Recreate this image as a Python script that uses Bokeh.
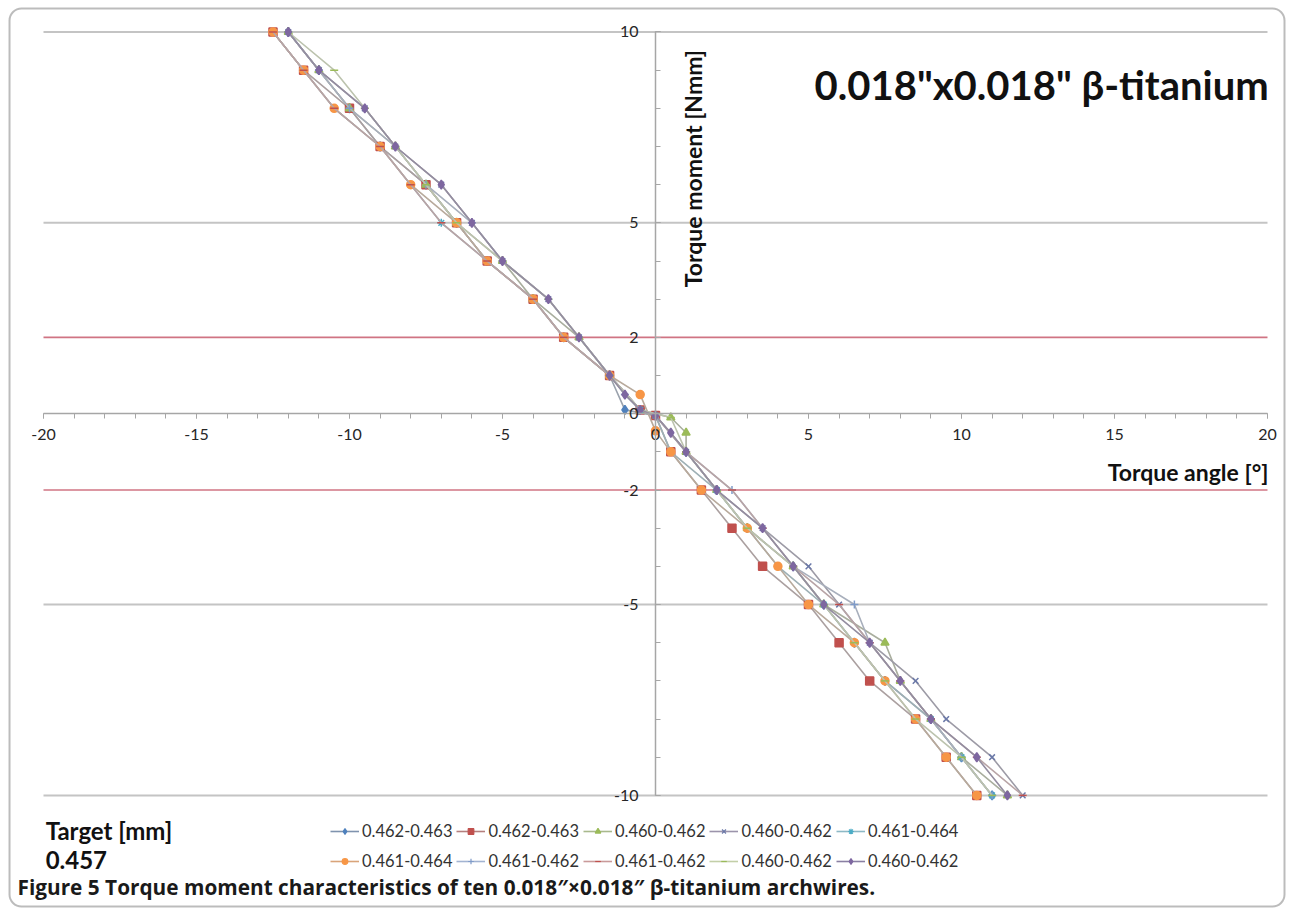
from bokeh.plotting import figure
from bokeh.models import Range1d, LinearAxis, FixedTicker, Legend, LegendItem, BoxAnnotation
from bokeh.core.properties import value
from bokeh.embed import file_html
from bokeh.resources import INLINE

# ---------------- data ----------------
series_labels = ["0.462-0.463", "0.462-0.463", "0.460-0.462", "0.460-0.462", "0.461-0.464",
                 "0.461-0.464", "0.461-0.462", "0.461-0.462", "0.460-0.462", "0.460-0.462"]

torque_up = [10, 9, 8, 7, 6, 5, 4, 3, 2, 1]            # Nmm
torque_down = [-1, -2, -3, -4, -5, -6, -7, -8, -9, -10]  # Nmm

s1_up = [-12.0, -11.0, -10.0, -9.0, -7.5, -6.5, -5.5, -4.0, -3.0, -1.5]
s1_mid_x = [-1.0, 0.0]
s1_mid_y = [0.1, -0.05]
s1_dn = [1.0, 2.0, 3.0, 4.5, 5.5, 6.5, 7.5, 9.0, 10.0, 11.0]

s2_up = [-12.5, -11.5, -10.0, -9.0, -7.5, -6.5, -5.5, -4.0, -3.0, -1.5]
s2_mid_x = [-0.5, 0.0]
s2_mid_y = [0.1, -0.05]
s2_dn = [0.5, 1.5, 2.5, 3.5, 5.0, 6.0, 7.0, 8.5, 9.5, 10.5]

s3_up = [-12.0, -11.0, -10.0, -8.5, -7.5, -6.5, -5.0, -4.0, -2.5, -1.5]
s3_mid_x = [-0.5, 0.5, 1.0]
s3_mid_y = [0.1, -0.1, -0.5]
s3_dn = [1.0, 2.0, 3.0, 4.5, 5.5, 7.5, 8.0, 9.0, 10.0, 11.5]

s4_up = [-12.0, -11.0, -9.5, -8.5, -7.0, -6.0, -5.0, -3.5, -2.5, -1.5]
s4_mid_x = [-0.5, 0.0]
s4_mid_y = [0.1, -0.05]
s4_dn = [1.0, 2.0, 3.5, 5.0, 6.0, 7.0, 8.5, 9.5, 11.0, 12.0]

s5_up = [-12.5, -11.5, -10.5, -9.0, -8.0, -7.0, -5.5, -4.0, -3.0, -1.5]
s5_mid_x = [-0.5, 0.0]
s5_mid_y = [0.1, -0.05]
s5_dn = [0.5, 2.0, 3.0, 4.0, 5.5, 6.5, 7.5, 9.0, 10.0, 11.0]

s6_up = [-12.5, -11.5, -10.5, -9.0, -8.0, -6.5, -5.5, -4.0, -3.0, -1.5]
s6_mid_x = [-0.5, 0.0]
s6_mid_y = [0.5, -0.45]
s6_dn = [0.5, 1.5, 3.0, 4.0, 5.0, 6.5, 7.5, 8.5, 9.5, 10.5]

s7_up = [-12.0, -11.0, -10.0, -8.5, -7.5, -6.0, -5.0, -3.5, -2.5, -1.5]
s7_mid_x = [-1.0, -0.5, 0.0]
s7_mid_y = [0.5, 0.1, -0.05]
s7_dn = [1.0, 2.5, 3.5, 4.5, 6.5, 7.0, 8.0, 9.0, 10.0, 11.0]

s8_up = [-12.5, -11.5, -10.5, -9.0, -8.0, -7.0, -5.5, -4.0, -3.0, -1.5]
s8_mid_x = [-0.5, 0.0]
s8_mid_y = [0.1, -0.05]
s8_dn = [1.0, 2.5, 3.5, 4.5, 6.0, 7.0, 8.0, 9.0, 10.5, 12.0]

s9_up = [-12.0, -10.5, -9.5, -8.5, -7.5, -6.5, -5.0, -3.5, -2.5, -1.5]
s9_mid_x = [-0.5, 0.5]
s9_mid_y = [0.1, -0.1]
s9_dn = [1.0, 2.0, 3.0, 4.5, 5.5, 6.5, 7.5, 8.5, 10.0, 11.0]

s10_up = [-12.0, -11.0, -9.5, -8.5, -7.0, -6.0, -5.0, -3.5, -2.5, -1.5]
s10_mid_x = [-1.0, -0.5, 0.0, 0.5]
s10_mid_y = [0.5, 0.1, -0.05, -0.5]
s10_dn = [1.0, 2.0, 3.5, 4.5, 5.5, 7.0, 8.0, 9.0, 10.5, 11.5]

x_ticks = [-20, -15, -10, -5, 0, 5, 10, 15, 20]
y_ticks = [-10, -5, -2, 0, 2, 5, 10]
grid_y = [10, 5, -5, -10]
limit_y = [2, -2]

# ---------------- styling ----------------
marker_colors = ["#4F81BD", "#C0504D", "#9BBB59", "#6A78A8", "#4BACC6",
                 "#F79646", "#7F9BC9", "#C0504D", "#9BBB59", "#7E67A0"]
line_colors = ["#9AA2AD", "#ABA0A0", "#A9AE9E", "#9D9BA6", "#9EB0B5",
               "#B8AA9C", "#A8AFBC", "#B8A4A6", "#BCC3AE", "#948DA0"]
legend_line_colors = ["#7F93AE", "#B57F7E", "#A9B98D", "#9C94AB", "#8DB9C6",
                      "#D9A47A", "#A3B4D2", "#C99A9A", "#C3CFA8", "#8A80A3"]
markers = ["diamond", "square", "triangle", "x", "asterisk",
           "circle", "cross", "dash", "dash", "diamond"]
sizes = [9, 8, 8, 8, 8, 8, 8, 8, 8, 9]

FONT = value("Lato")

p = figure(width=1290, height=912,
           x_range=Range1d(-21.405, 20.752), y_range=Range1d(-13.068, 10.825),
           output_backend="svg", toolbar_location=None,
           x_axis_type=None, y_axis_type=None, min_border=0,
           outline_line_color=None, background_fill_color="white",
           border_fill_color="white")

# grid lines
p.segment(x0=[-20] * len(grid_y), x1=[20] * len(grid_y), y0=grid_y, y1=grid_y,
          line_color="#C4C4C4", line_width=2)
p.segment(x0=[-20] * len(limit_y), x1=[20] * len(limit_y), y0=limit_y, y1=limit_y,
          line_color="#D07483", line_width=1.6)

# axes crossing at origin
xax = LinearAxis(fixed_location=0, bounds=(-20, 20),
                 ticker=FixedTicker(ticks=x_ticks, minor_ticks=list(range(-20, 21))))
yax = LinearAxis(fixed_location=0, bounds=(-10, 10),
                 ticker=FixedTicker(ticks=y_ticks, minor_ticks=list(range(-10, 11))))
xax.major_label_overrides = {t: str(t) for t in x_ticks}
yax.major_label_overrides = {t: str(t) for t in y_ticks}
for ax in (xax, yax):
    ax.axis_line_color = "#A6A6A6"
    ax.axis_line_width = 1.5
    ax.major_tick_line_color = "#A6A6A6"
    ax.minor_tick_line_color = "#A6A6A6"
    ax.major_label_text_font = "Lato"
    ax.major_label_text_font_size = "16px"
    ax.major_label_text_color = "#262626"
xax.major_tick_in = 0
xax.major_tick_out = 5
xax.minor_tick_in = 0
xax.minor_tick_out = 5
xax.major_label_standoff = 10
yax.major_tick_in = 5
yax.major_tick_out = 0
yax.minor_tick_in = 5
yax.minor_tick_out = 0
yax.major_label_standoff = 17
p.add_layout(xax, "below")
p.add_layout(yax, "left")

ups = [s1_up, s2_up, s3_up, s4_up, s5_up, s6_up, s7_up, s8_up, s9_up, s10_up]
mids_x = [s1_mid_x, s2_mid_x, s3_mid_x, s4_mid_x, s5_mid_x, s6_mid_x, s7_mid_x, s8_mid_x, s9_mid_x, s10_mid_x]
mids_y = [s1_mid_y, s2_mid_y, s3_mid_y, s4_mid_y, s5_mid_y, s6_mid_y, s7_mid_y, s8_mid_y, s9_mid_y, s10_mid_y]
dns = [s1_dn, s2_dn, s3_dn, s4_dn, s5_dn, s6_dn, s7_dn, s8_dn, s9_dn, s10_dn]

items = []
for i in range(10):
    xs = ups[i] + mids_x[i] + dns[i]
    ys = torque_up + mids_y[i] + torque_down
    p.line(xs, ys, line_color=line_colors[i], line_width=1.6)
    p.scatter(xs, ys, marker=markers[i], size=sizes[i],
              fill_color=marker_colors[i], line_color=marker_colors[i], line_width=1.5)
    # hidden copies carrying the legend-key styling
    lg_ln = p.line(xs, ys, line_color=legend_line_colors[i], line_width=1.6, visible=False)
    lg_mk = p.scatter(xs, ys, marker=markers[i], size=6,
                      fill_color=marker_colors[i], line_color=marker_colors[i],
                      line_width=1.2, visible=False)
    items.append(LegendItem(label=series_labels[i], renderers=[lg_ln, lg_mk]))

legend_kw = dict(orientation="horizontal", glyph_width=29, glyph_height=14,
                 label_height=14, label_standoff=3, spacing=4, padding=0, margin=0,
                 border_line_color=None, background_fill_alpha=0,
                 inactive_fill_alpha=0, click_policy="none",
                 label_text_font="Lato", label_text_font_size="16.5px",
                 label_text_color="#333333")
legend_row1 = Legend(items=items[:5], location=(330, 71), **legend_kw)
legend_row2 = Legend(items=items[5:], location=(330, 41), **legend_kw)
p.add_layout(legend_row1)
p.add_layout(legend_row2)

# texts
p.text(x=[20.36], y=[8.6], text=['0.018"x0.018"  \u03b2-titanium'],
       text_font=FONT, text_font_style="bold", text_font_size="40px",
       text_align="right", text_baseline="alphabetic", text_color="#111111")
p.text(x=[1.21], y=[6.42], text=["Torque moment [Nmm]"], angle=1.5708,
       text_font=FONT, text_font_style="bold", text_font_size="23px",
       text_align="center", text_baseline="middle", text_color="#111111")
p.text(x=[20.03], y=[-1.54], text=["Torque angle [\u00b0]"],
       text_font=FONT, text_font_style="bold", text_font_size="23px",
       text_align="right", text_baseline="middle", text_color="#111111")
p.text(x=[-19.93, -19.93], y=[-10.92, -11.70], text=["Target [mm]", "0.457"],
       text_font=FONT, text_font_style="bold", text_font_size="24px",
       text_align="left", text_baseline="middle", text_color="#111111")
p.text(x=[-20.85], y=[-12.41],
       text=["Figure 5 Torque moment characteristics of ten 0.018\u2033\u00d70.018\u2033 \u03b2-titanium archwires."],
       text_font=value("Open Sans"), text_font_style="bold", text_font_size="20.8px",
       text_align="left", text_baseline="middle", text_color="#1a1a1a")

# rounded frame
p.add_layout(BoxAnnotation(left=-21.11, right=20.556, top=10.616, bottom=-12.91,
                           fill_color=None, line_color="#222222", line_width=2,
                           border_radius=12))

open("out.html", "w").write(file_html(p, INLINE))
